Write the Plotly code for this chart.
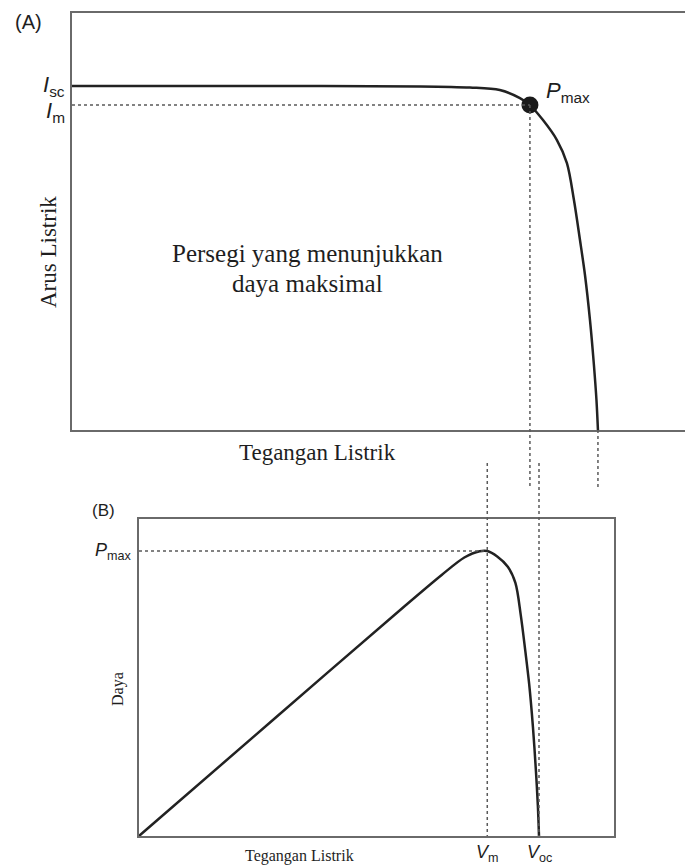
import plotly.graph_objects as go

# Current-voltage characteristic of the solar cell (volts, amperes)
voltage = [0.0, 0.203, 0.397, 0.454, 0.488, 0.511, 0.5224, 0.5373, 0.5532,
           0.5646, 0.5726, 0.5795, 0.5852, 0.5909, 0.5954, 0.5983, 0.600]
current = [3.0, 3.0, 2.997, 2.987, 2.965, 2.895, 2.834, 2.703, 2.529,
           2.328, 2.006, 1.657, 1.352, 0.959, 0.567, 0.262, 0.0]

# Power delivered at each operating point
power = [v * i for v, i in zip(voltage, current)]
k_max = max(range(len(power)), key=lambda k: power[k])
v_m, i_m, p_max = voltage[k_max], current[k_max], power[k_max]
v_oc, i_sc = voltage[-1], current[0]

W, H = 685, 866


def px(x):
    return x / W


def py(y):
    return 1 - y / H


# panel geometry (paper fractions)
A_X = [px(72), 1.0]
A_Y = [py(430), py(13)]
B_X = [px(139), px(614)]
B_Y = [py(836), py(519)]

A_XR = [0, 0.6993]
A_YR = [0, 3.637]
B_XR = [0, 0.7125]
B_YR = [0, p_max * 317 / 285]

CURVE = "#222222"
FRAME = "#6a6a6a"
DOT = "#5a5a5a"
SANS = "Liberation Sans"
SERIF = "Liberation Serif"

fig = go.Figure()

fig.add_trace(go.Scatter(
    x=voltage, y=current, mode="lines",
    line=dict(color=CURVE, width=2.5, shape="spline", smoothing=0.9),
    xaxis="x", yaxis="y", hoverinfo="skip", showlegend=False))
fig.add_trace(go.Scatter(
    x=[v_m], y=[i_m], mode="markers",
    marker=dict(color="#1a1a1a", size=17, line=dict(width=0)),
    xaxis="x", yaxis="y", hoverinfo="skip", showlegend=False))
fig.add_trace(go.Scatter(
    x=voltage, y=power, mode="lines",
    line=dict(color=CURVE, width=2.5, shape="spline", smoothing=0.9),
    xaxis="x2", yaxis="y2", hoverinfo="skip", showlegend=False))

axis_common = dict(showgrid=False, zeroline=False, showticklabels=False,
                   ticks="", showline=True, linecolor=FRAME, linewidth=2)

fig.update_layout(
    width=W, height=H,
    margin=dict(l=0, r=0, t=0, b=0),
    paper_bgcolor="white", plot_bgcolor="white",
    xaxis=dict(domain=A_X, range=A_XR, mirror=True, anchor="y", **axis_common),
    yaxis=dict(domain=A_Y, range=A_YR, mirror=False, anchor="x", **axis_common),
    xaxis2=dict(domain=B_X, range=B_XR, mirror=True, anchor="y2", **axis_common),
    yaxis2=dict(domain=B_Y, range=B_YR, mirror=True, anchor="x2", **axis_common),
)

dotted = dict(color=DOT, width=1.5, dash="dot")
# dot position in paper units for panel A
dot_paper_y = A_Y[0] + i_m / A_YR[1] * (A_Y[1] - A_Y[0])

shapes = [
    dict(type="line", xref="x", yref="y", x0=0, x1=v_m, y0=i_m, y1=i_m, line=dotted),
    dict(type="line", xref="x", yref="paper", x0=v_m, x1=v_m, y0=dot_paper_y, y1=py(488), line=dotted),
    dict(type="line", xref="x", yref="paper", x0=v_oc, x1=v_oc, y0=A_Y[0], y1=py(488), line=dotted),
    dict(type="line", xref="x2", yref="y2", x0=0, x1=v_m, y0=p_max, y1=p_max, line=dotted),
    dict(type="line", xref="x2", yref="paper", x0=v_m, x1=v_m, y0=py(463), y1=B_Y[0], line=dotted),
    dict(type="line", xref="x2", yref="paper", x0=v_oc, x1=v_oc, y0=py(463), y1=B_Y[0], line=dotted),
]
fig.update_layout(shapes=shapes)


def note(text, x, y, size, family=SANS, xanchor="center", yanchor="middle",
         angle=0, xref="paper", yref="paper", color="#1e1e1e"):
    fig.add_annotation(text=text, x=x, y=y, xref=xref, yref=yref,
                       showarrow=False, xanchor=xanchor, yanchor=yanchor,
                       textangle=angle,
                       font=dict(family=family, size=size, color=color))


# panel A labels
note("(A)", px(28), py(22), 20)
note("<i>I</i><sub>sc</sub>", px(67), i_sc, 22, xanchor="right", yref="y")
note("<i>I</i><sub>m</sub>", px(67), i_m - 0.06, 22, xanchor="right", yref="y")
note("<i>P</i><sub>max</sub>", px(544), py(92), 22, xanchor="left")
note("Tegangan Listrik", px(317), py(452), 23, family=SERIF)
note("Arus Listrik", px(48), py(252), 23, family=SERIF, angle=-90)
note("Persegi yang menunjukkan", px(307), py(253), 25, family=SERIF)
note("daya maksimal", px(307), py(283), 25, family=SERIF)

# panel B labels
note("(B)", px(103), py(511), 17)
note("<i>P</i><sub>max</sub>", px(134), p_max, 18, xanchor="right",
     yref="y2")
note("Daya", px(118), py(689), 16, family=SERIF, angle=-90)
note("Tegangan Listrik", px(299), py(856), 16, family=SERIF)
note("<i>V</i><sub>m</sub>", v_m, py(853), 18, xref="x2")
note("<i>V</i><sub>oc</sub>", v_oc, py(853), 18, xref="x2")

fig.write_html("out.html")
